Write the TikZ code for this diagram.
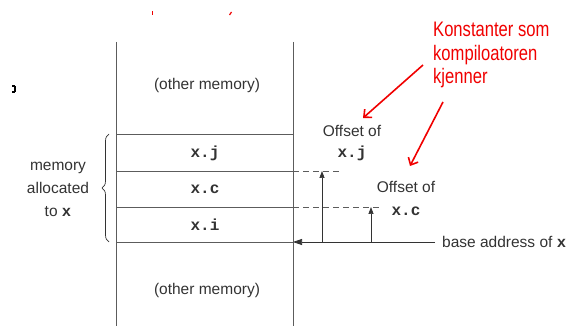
\documentclass[tikz,border=0pt]{standalone}
\usepackage{fontspec}
\setmainfont{Liberation Sans}
\setmonofont{Liberation Mono}
\usetikzlibrary{arrows.meta,decorations.pathreplacing}
\definecolor{ink}{HTML}{333333}
\definecolor{redink}{HTML}{F00000}
\newcommand{\narrowred}[1]{\scalebox{0.79}[1]{#1}}
\tikzset{
  line/.style={draw=ink!80,line width=0.8pt},
  lbl/.style={text=ink,font=\fontsize{15.5}{18}\selectfont,inner sep=0pt},
  fld/.style={text=ink,font=\fontsize{16}{18}\selectfont\ttfamily\bfseries,inner sep=0pt},
  dashedline/.style={draw=ink!80,line width=0.7pt,dash pattern=on 6pt off 4pt},
  uparrow/.style={draw=ink,line width=0.7pt,-{Triangle[length=7pt,width=5pt]}},
  redarrow/.style={draw=redink,line width=1.6pt,-{Straight Barb[length=6pt,width=11pt,line width=1.6pt]}},
  redlbl/.style={text=redink,font=\fontsize{21}{23.5}\selectfont,align=left,inner sep=0pt}
}
\begin{document}
\begin{tikzpicture}[x=1pt,y=-1pt]
\useasboundingbox (0,0) rectangle (571,326);
% stack column
\coordinate (TL) at (116,42);
\coordinate (TR) at (293,42);
\coordinate (BL) at (116,326);
\coordinate (BR) at (293,326);
\draw[line] (TL) -- (BL);
\draw[line] (TR) -- (BR);
\coordinate (l1) at (116,134); \coordinate (r1) at (293,134);
\coordinate (l2) at (116,171); \coordinate (r2) at (293,171);
\coordinate (l3) at (116,207); \coordinate (r3) at (293,207);
\coordinate (l4) at (116,242); \coordinate (r4) at (293,242);
\draw[line] (l1) -- (r1);
\draw[line] (l2) -- (r2);
\draw[line] (l3) -- (r3);
\draw[line] (l4) -- (r4);
\node[lbl] (om1) at (207,85) {(other memory)};
\node[lbl] (om2) at (207,290) {(other memory)};
\node[fld] (xj) at (205,153) {x.j};
\node[fld] (xc) at (205,189) {x.c};
\node[fld] (xi) at (205,225) {x.i};
% brace
\draw[draw=ink,line width=0.7pt,decorate,decoration={brace,amplitude=7pt}] (109,242) -- (109,134);
\node[lbl,align=center,font=\fontsize{15.5}{23}\selectfont] (mem) at (58,189) {memory\\allocated\\to \texttt{\bfseries x}};
% offsets
\coordinate (d1) at (340,171);
\coordinate (d2) at (381,207);
\draw[dashedline] (r2) -- (d1);
\draw[dashedline] (r3) -- (d2);
\coordinate (a1s) at (322,242); \coordinate (a1e) at (322,171);
\coordinate (a2s) at (371,242); \coordinate (a2e) at (371,207);
\draw[uparrow] (a1s) -- (a1e);
\draw[uparrow] (a2s) -- (a2e);
\node[lbl] (base) at (442,242) [anchor=west] {base address of \texttt{\bfseries x}};
\draw[draw=ink,line width=0.7pt,-{Triangle[length=9pt,width=6pt]}] (base.west) ++(-7,0) -- (r4);
\node[lbl] (off1) at (352,131) {Offset of};
\node[fld] (off1x) at (352,153) {x.j};
\node[lbl] (off2) at (406,187) {Offset of};
\node[fld] (off2x) at (406,211) {x.c};
% red annotation
\node[redlbl,anchor=north west] (kons) at (433,22) {\narrowred{Konstanter som}\\\narrowred{kompiloatoren}\\\narrowred{kjenner}};
\coordinate (ra1s) at (423,65); \coordinate (ra1e) at (363,118);
\coordinate (ra2s) at (443,102); \coordinate (ra2e) at (410,166);
\draw[redarrow] (ra1s) -- (ra1e);
\draw[redarrow] (ra2s) -- (ra2e);
% cropped fragments
\draw[redink,line width=1.2pt] (152.5,11) -- (152.5,15);
\draw[redink,line width=1.2pt] (229.5,15) -- (231.5,12);
\draw[black,line width=1.4pt] (12,86) -- (15,86) (12,92) -- (15,92) (15,86) -- (15,92);
\end{tikzpicture}
\end{document}
